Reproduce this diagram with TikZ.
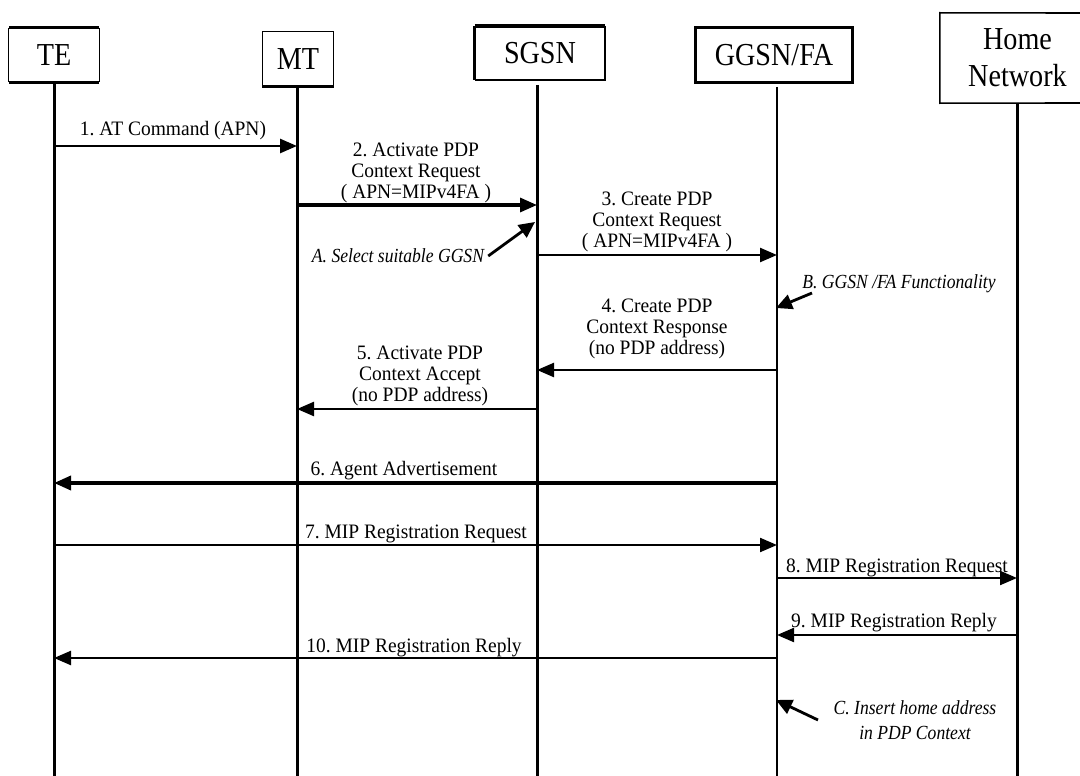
\documentclass[tikz,border=0pt]{standalone}
\usepackage{fontspec}
\setmainfont{Liberation Serif}
\newfontfamily\narrowserif[FakeStretch=0.88]{Liberation Serif}
\newfontfamily\labelserif[FakeStretch=0.95]{Liberation Serif}
\usetikzlibrary{arrows.meta}
\frenchspacing

\begin{document}
\begin{tikzpicture}[x=1pt,y=-1pt,
  head/.style={font=\narrowserif\fontsize{32}{37}\selectfont, inner sep=0pt, align=center},
  boxnode/.style={head, draw=none, rectangle},
  thin/.style={line width=1.3pt},
  thick/.style={line width=3pt},
  life/.style={line width=3pt},
  msg/.style={-{Triangle[length=17pt,width=14pt]}, line width=2.4pt},
  lbl/.style={font=\labelserif\fontsize{20.5}{21}\selectfont, align=center, inner sep=0pt},
  note/.style={font=\narrowserif\fontsize{20}{25}\selectfont\itshape, align=center, inner sep=0pt},
  notearrow/.style={-{Triangle[length=16pt,width=15pt]}, line width=2.8pt},
]
\useasboundingbox (0,0) rectangle (1080,776);

% entity boxes
\node[boxnode, minimum width=90pt, minimum height=54pt] (te) at (54,55) {TE};
\node[boxnode, minimum width=71pt, minimum height=54pt] (mt) at (298,59) {MT};
\node[boxnode, minimum width=130pt, minimum height=54pt] (sg) at (540,53) {SGSN};
\node[boxnode, minimum width=156pt, minimum height=54pt] (gg) at (774,55) {GGSN/FA};
\node[boxnode, minimum width=155pt, minimum height=90pt] (hn) at (1017.5,58) {Home\\Network};

% box borders
\draw[thick] (te.north west) -- (te.north east);
\draw[thick] (te.south west) -- (te.south east);
\draw[thin] (te.north west) -- (te.south west) (te.north east) -- (te.south east);

\draw[thin] (mt.south west) -- (mt.north west) -- (mt.north east) -- (mt.south east);
\draw[thick] (mt.south west) -- (mt.south east);

\draw[line width=3.5pt] (sg.north west) -- (sg.north east);
\draw[thick] (sg.north west) -- (sg.south west);
\draw[line width=1.6pt] (sg.south west) -- (sg.south east) -- (sg.north east);

\draw[thick] (gg.north west) rectangle (gg.south east);

\draw[line width=1.6pt] (1080,13) -- (hn.north west) -- (hn.south west) -- (1080,103);

% lifelines
\coordinate (teL) at (54,82);   \coordinate (teE) at (54,776);
\coordinate (mtL) at (297,86);  \coordinate (mtE) at (297,776);
\coordinate (sgL) at (537,85);  \coordinate (sgE) at (537,776);
\coordinate (ggL) at (777,87);  \coordinate (ggE) at (777,776);
\coordinate (hnL) at (1017,103);\coordinate (hnE) at (1017,776);
\draw[life] (teL) -- (teE);
\draw[life] (mtL) -- (mtE);
\draw[life] (sgL) -- (sgE);
\draw[line width=1.5pt] (ggL) -- (ggE);
\draw[life] (hnL) -- (hnE);

% message rows
\coordinate (m1) at (0,146);
\coordinate (m2) at (0,205);
\coordinate (m3) at (0,255);
\coordinate (m4) at (0,370);
\coordinate (m5) at (0,409);
\coordinate (m6) at (0,483);
\coordinate (m7) at (0,545);
\coordinate (m8) at (0,578);
\coordinate (m9) at (0,635);
\coordinate (m10) at (0,658);

\draw[msg, line width=2.6pt] (teL |- m1) -- (mtL |- m1);
\draw[msg, line width=3.2pt] (mtL |- m2) -- (sgL |- m2);
\draw[msg] (sgL |- m3) -- (ggL |- m3);
\draw[msg] (ggL |- m4) -- (sgL |- m4);
\draw[msg] (sgL |- m5) -- (mtL |- m5);
\draw[msg, line width=3.6pt] (ggL |- m6) -- (teL |- m6);
\draw[msg, line width=2.2pt] (teL |- m7) -- (ggL |- m7);
\draw[msg, line width=2.2pt] (ggL |- m8) -- (hnL |- m8);
\draw[msg, line width=2.2pt] (hnL |- m9) -- (ggL |- m9);
\draw[msg, line width=2.4pt] (ggL |- m10) -- (teL |- m10);

% message labels
\node[lbl] (l1) at (173,131) {1. AT Command (APN)};
\node[lbl] (l2) at (416,173) {2. Activate PDP\\Context Request\\( APN=MIPv4FA )};
\node[lbl] (l3) at (657,222) {3. Create PDP\\Context Request\\( APN=MIPv4FA )};
\node[lbl] (l4) at (657,329) {4. Create PDP\\Context Response\\(no PDP address)};
\node[lbl] (l5) at (420,376) {5. Activate PDP\\Context Accept\\(no PDP address)};
\node[lbl] (l6) at (404,471) {6. Agent Advertisement};
\node[lbl] (l7) at (416,534) {7. MIP Registration Request};
\node[lbl] (l8) at (897,568) {8. MIP Registration Request};
\node[lbl] (l9) at (894,623) {9. MIP Registration Reply};
\node[lbl] (l10) at (414,648) {10. MIP Registration Reply};

% internal actions
\node[note] (na) at (398,256) {A. Select suitable GGSN};
\coordinate (ta) at (535,222);
\draw[notearrow] (na.east) ++(4,0) coordinate (sa) (sa) -- (ta);

\node[note] (nb) at (899,284) {B. GGSN /FA Functionality};
\coordinate (sb) at (812,293);
\coordinate (tb) at (776,308);
\draw[notearrow] (sb) -- (tb);

\node[note] (nc) at (915,720) {C. Insert home address\\in PDP Context};
\coordinate (sc) at (818,720);
\coordinate (tc) at (776,700);
\draw[notearrow] (sc) -- (tc);
\end{tikzpicture}
\end{document}
